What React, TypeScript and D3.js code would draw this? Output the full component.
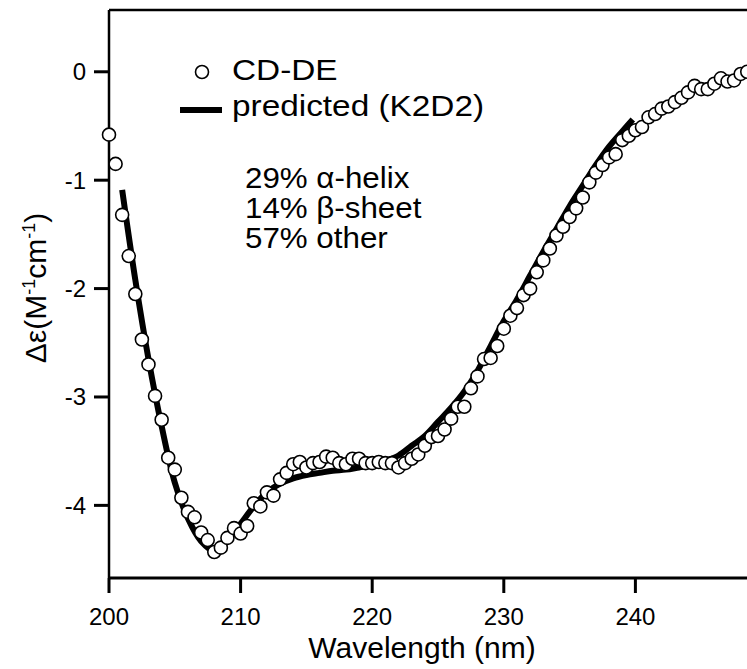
import React from 'react'
import * as d3 from 'd3'

// measured CD spectrum, 0.5 nm steps
const wavelengths = [
  200.0, 200.5, 201.0, 201.5, 202.0, 202.5, 203.0, 203.5, 204.0, 204.5,
  205.0, 205.5, 206.0, 206.5, 207.0, 207.5, 208.0, 208.5, 209.0, 209.5,
  210.0, 210.5, 211.0, 211.5, 212.0, 212.5, 213.0, 213.5, 214.0, 214.5,
  215.0, 215.5, 216.0, 216.5, 217.0, 217.5, 218.0, 218.5, 219.0, 219.5,
  220.0, 220.5, 221.0, 221.5, 222.0, 222.5, 223.0, 223.5, 224.0, 224.5,
  225.0, 225.5, 226.0, 226.5, 227.0, 227.5, 228.0, 228.5, 229.0, 229.5,
  230.0, 230.5, 231.0, 231.5, 232.0, 232.5, 233.0, 233.5, 234.0, 234.5,
  235.0, 235.5, 236.0, 236.5, 237.0, 237.5, 238.0, 238.5, 239.0, 239.5,
  240.0, 240.5, 241.0, 241.5, 242.0, 242.5, 243.0, 243.5, 244.0, 244.5,
  245.0, 245.5, 246.0, 246.5, 247.0, 247.5, 248.0, 248.5,
]
const cdDE = [
  -0.58, -0.85, -1.32, -1.70, -2.05, -2.47, -2.70, -2.99, -3.21, -3.56,
  -3.67, -3.93, -4.06, -4.11, -4.25, -4.32, -4.43, -4.39, -4.30, -4.21,
  -4.26, -4.19, -3.98, -4.01, -3.88, -3.91, -3.76, -3.70, -3.62, -3.60,
  -3.65, -3.61, -3.60, -3.55, -3.56, -3.61, -3.62, -3.57, -3.57, -3.61,
  -3.61, -3.60, -3.61, -3.61, -3.65, -3.61, -3.57, -3.53, -3.45, -3.37,
  -3.36, -3.30, -3.20, -3.09, -3.09, -2.92, -2.81, -2.65, -2.64, -2.53,
  -2.37, -2.25, -2.18, -2.06, -2.00, -1.85, -1.74, -1.63, -1.51, -1.43,
  -1.34, -1.26, -1.16, -1.02, -0.93, -0.86, -0.79, -0.76, -0.63, -0.59,
  -0.54, -0.51, -0.42, -0.39, -0.34, -0.32, -0.28, -0.24, -0.19, -0.13,
  -0.16, -0.16, -0.11, -0.06, -0.09, -0.08, -0.02, 0.00,
]

// K2D2 prediction
const predWavelengths = [
  201, 202, 203, 204, 205, 206, 207, 208, 209, 210,
  211, 212, 213, 214, 215, 216, 217, 218, 219, 220,
  221, 222, 223, 224, 225, 226, 227, 228, 229, 230,
  231, 232, 233, 234, 235, 236, 237, 238, 239, 239.8,
]
const predicted = [
  -1.09, -1.92, -2.65, -3.27, -3.79, -4.12, -4.33, -4.42, -4.33, -4.17,
  -4.01, -3.88, -3.80, -3.75, -3.72, -3.70, -3.68, -3.67, -3.65, -3.63,
  -3.59, -3.54, -3.45, -3.36, -3.23, -3.10, -2.95, -2.76, -2.53, -2.30,
  -2.10, -1.88, -1.66, -1.45, -1.24, -1.05, -0.86, -0.69, -0.55, -0.44,
]

const xTicks = [200, 210, 220, 230, 240]
const yTicks = [0, -1, -2, -3, -4]
const notes = ['29% \u03b1-helix', '14% \u03b2-sheet', '57% other']

const W = 747
const H = 669
const FONT = "'Liberation Sans', Arial, sans-serif"

const App = () => {
  const left = 109
  const top = 10
  const bottom = 578

  const x = d3.scaleLinear().domain([200, 250]).range([left, left + 50 * 13.16])
  const y = d3.scaleLinear().domain([-4.67, 0.57]).range([bottom, top])

  const line = d3
    .line<number>()
    .x((d, i) => x(predWavelengths[i]))
    .y(d => y(d))
    .curve(d3.curveCatmullRom)

  return (
    <svg
      width={W}
      height={H}
      style={{ position: 'absolute', left: 0, top: 0, background: '#fff' }}
      fontFamily={FONT}
    >
      <rect width={W} height={H} fill='#fff' />

      {/* frame */}
      <line x1={left} x2={W} y1={top} y2={top} stroke='#000' strokeWidth={2.5} />
      <line x1={left} x2={left} y1={top} y2={bottom} stroke='#000' strokeWidth={2.5} />
      <line x1={left} x2={W} y1={bottom} y2={bottom} stroke='#000' strokeWidth={3} />

      {/* y axis */}
      {yTicks.map(t => (
        <g key={t}>
          <line x1={left - 15} x2={left} y1={y(t)} y2={y(t)} stroke='#000' strokeWidth={3} />
          <text x={86} y={y(t) + 8.5} textAnchor='end' fontSize={24}>
            {t === 0 ? '0' : '-' + Math.abs(t)}
          </text>
        </g>
      ))}

      {/* x axis */}
      {xTicks.map(t => (
        <g key={t}>
          <line x1={x(t)} x2={x(t)} y1={bottom} y2={bottom + 15} stroke='#000' strokeWidth={3} />
          <text x={x(t)} y={625} textAnchor='middle' fontSize={24}>
            {t}
          </text>
        </g>
      ))}

      <text x={422} y={658} textAnchor='middle' fontSize={30}>
        Wavelength (nm)
      </text>
      <text
        transform={`translate(46, 288) rotate(-90)`}
        textAnchor='middle'
        fontSize={30}
      >
        {'\u0394\u03b5(M'}
        <tspan fontSize={18} dy={-11}>-1</tspan>
        <tspan dy={11}>cm</tspan>
        <tspan fontSize={18} dy={-11}>-1</tspan>
        <tspan dy={11}>)</tspan>
      </text>

      {/* data */}
      <path d={line(predicted) || ''} fill='none' stroke='#000' strokeWidth={6} />
      {cdDE.map((v, i) => (
        <circle
          key={i}
          cx={x(wavelengths[i])}
          cy={y(v)}
          r={6.5}
          fill='#fff'
          stroke='#000'
          strokeWidth={1.6}
        />
      ))}

      {/* legend */}
      <circle cx={202} cy={72} r={6.5} fill='#fff' stroke='#000' strokeWidth={1.6} />
      <line x1={180} x2={222} y1={110} y2={110} stroke='#000' strokeWidth={6} />
      <g transform='translate(232, 0) scale(1.15, 1)'>
        <text x={0} y={80} fontSize={29}>CD-DE</text>
        <text x={0} y={116} fontSize={29}>predicted (K2D2)</text>
      </g>
      <g transform='translate(245, 0) scale(1.08, 1)'>
        {notes.map((n, i) => (
          <text key={n} x={0} y={188 + i * 30} fontSize={29}>
            {n}
          </text>
        ))}
      </g>
    </svg>
  )
}

export default App
